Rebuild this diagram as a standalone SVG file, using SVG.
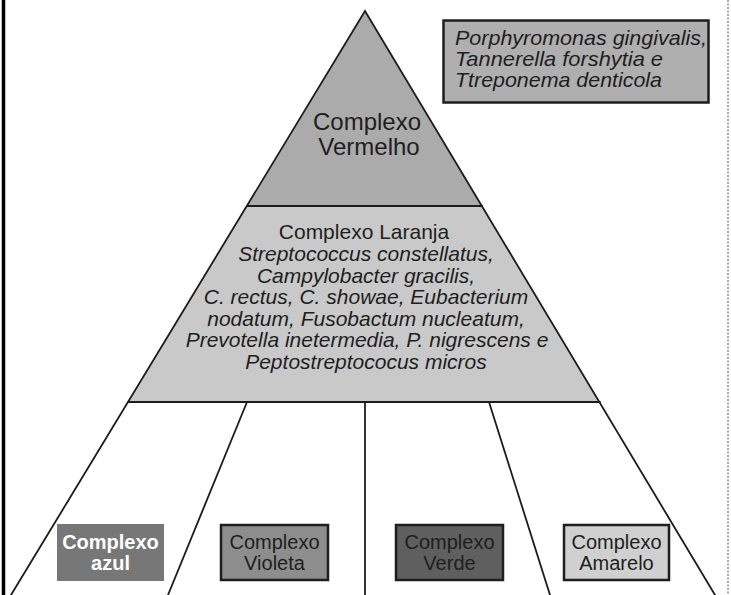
<svg xmlns="http://www.w3.org/2000/svg" width="731" height="595" viewBox="0 0 731 595">
<style>
.ln{stroke:#1c1c1c;stroke-width:1.8;fill:none;stroke-linecap:round}
.t{font-family:"Liberation Sans",Arial,sans-serif;fill:#1e1e1e}
.it{font-style:italic}
.box{stroke:#1e1e1e;stroke-width:2.5}
</style>
<rect width="731" height="595" fill="#ffffff"/>
<line x1="3.5" y1="0" x2="3.5" y2="595" stroke="#000" stroke-width="3.5"/>
<line x1="728" y1="0" x2="728" y2="595" stroke="#555" stroke-width="1" stroke-dasharray="2,1.5"/>

<g id="vermelho">
<polygon points="365,11 247,206 482,206" fill="#ababab"/>
<text class="t" x="367" y="130" font-size="24" text-anchor="middle">Complexo</text>
<text class="t" x="369" y="155" font-size="24" text-anchor="middle">Vermelho</text>
</g>

<g id="laranja">
<polygon points="247,206 482,206 600,402 128,402" fill="#c9c9c9"/>
<g class="t" font-size="21" text-anchor="middle">
<text x="364" y="239">Complexo Laranja</text>
<text class="it" x="366" y="261">Streptococcus constellatus,</text>
<text class="it" x="366" y="282.5">Campylobacter gracilis,</text>
<text class="it" x="366" y="304">C. rectus, C. showae, Eubacterium</text>
<text class="it" x="366" y="325.5">nodatum, Fusobactum nucleatum,</text>
<text class="it" x="367" y="347">Prevotella inetermedia, P. nigrescens e</text>
<text class="it" x="366" y="368.5">Peptostreptococus micros</text>
</g>
</g>

<g id="legenda">
<rect class="box" x="443.5" y="20.5" width="265" height="82" fill="#afafaf" stroke-width="2"/>
<g class="t it" font-size="21">
<text x="455" y="45" textLength="252" lengthAdjust="spacingAndGlyphs">Porphyromonas gingivalis,</text>
<text x="455" y="66" textLength="208" lengthAdjust="spacingAndGlyphs">Tannerella forshytia e</text>
<text x="455" y="87" textLength="207" lengthAdjust="spacingAndGlyphs">Ttreponema denticola</text>
</g>
</g>

<g id="conectores">
<polyline class="ln" points="11,595 365,11 715,595"/>
<line class="ln" x1="247" y1="206" x2="482" y2="206"/>
<line class="ln" x1="128" y1="402" x2="600" y2="402"/>
<line class="ln" x1="247" y1="402" x2="168" y2="595"/>
<line class="ln" x1="365" y1="402" x2="365" y2="595"/>
<line class="ln" x1="489" y1="402" x2="550" y2="595"/>
</g>

<g id="azul">
<rect x="57" y="524" width="107" height="57" fill="#777777"/>
<text class="t" x="110.5" y="549" font-size="20" font-weight="bold" text-anchor="middle" style="fill:#ffffff">Complexo</text>
<text class="t" x="110.5" y="570" font-size="20" font-weight="bold" text-anchor="middle" style="fill:#ffffff">azul</text>
</g>

<g id="violeta">
<rect class="box" x="221" y="525" width="107" height="55" fill="#8d8d8d"/>
<text class="t" x="274.5" y="549" font-size="20" text-anchor="middle">Complexo</text>
<text class="t" x="274.5" y="570" font-size="20" text-anchor="middle">Violeta</text>
</g>

<g id="verde">
<rect class="box" x="396" y="525" width="107" height="55" fill="#5f5f5f"/>
<text class="t" x="449.5" y="549" font-size="20" text-anchor="middle">Complexo</text>
<text class="t" x="449.5" y="570" font-size="20" text-anchor="middle">Verde</text>
</g>

<g id="amarelo">
<rect class="box" x="564" y="525" width="105" height="55" fill="#d0d0d0"/>
<text class="t" x="616.5" y="549" font-size="20" text-anchor="middle">Complexo</text>
<text class="t" x="616.5" y="570" font-size="20" text-anchor="middle">Amarelo</text>
</g>
</svg>
